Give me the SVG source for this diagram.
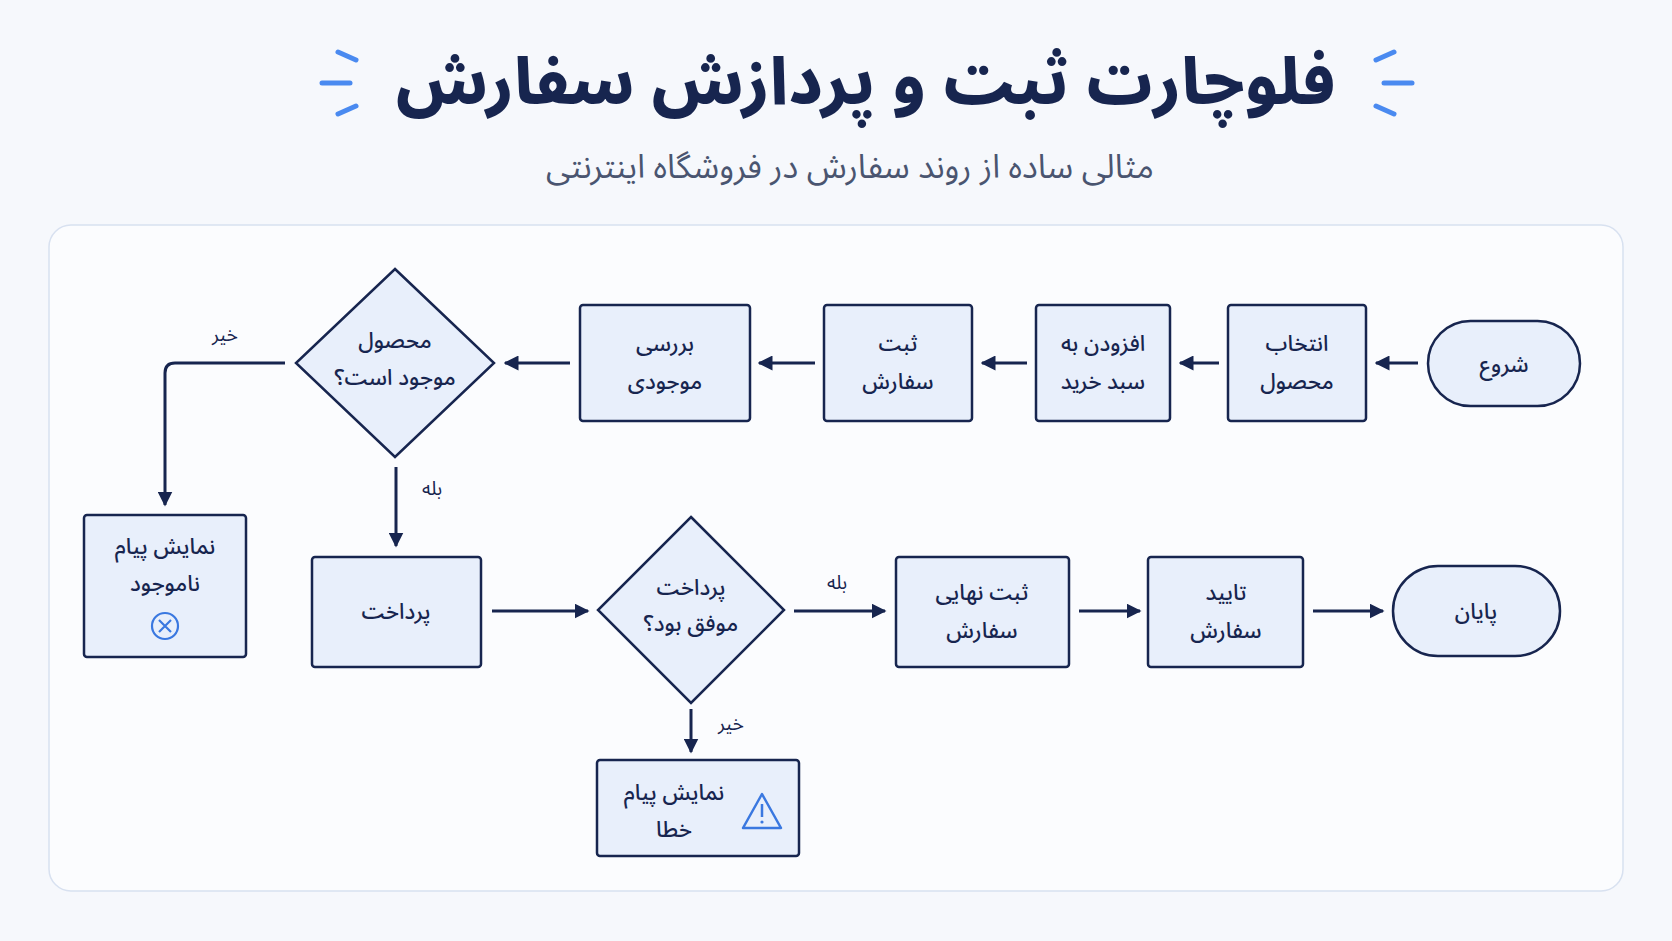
<svg xmlns="http://www.w3.org/2000/svg" width="1672" height="941" viewBox="0 0 1672 941">
<defs>
<marker id="ah" viewBox="0 0 10 10" refX="9" refY="5" markerWidth="5" markerHeight="5" orient="auto-start-reverse"><path d="M0,0 L10,5 L0,10 z" fill="#17254f"/></marker>
<style>
.n{fill:#e8effb;stroke:#17254f;stroke-width:2.5}
.t{font-family:"Noto Sans Arabic","DejaVu Sans",sans-serif;font-size:22px;font-weight:500;fill:#17254f;text-anchor:middle;direction:rtl}
.l{font-family:"Noto Sans Arabic","DejaVu Sans",sans-serif;font-size:19px;fill:#17254f;text-anchor:middle;direction:rtl}
.c{fill:none;stroke:#17254f;stroke-width:3;marker-end:url(#ah)}
.d{stroke:#4a8af0;stroke-width:5;stroke-linecap:round}
</style>
</defs>
<rect width="1672" height="941" fill="#f6f8fc"/>
<text x="866" y="104" style="font-family:'Noto Sans Arabic','DejaVu Sans',sans-serif;font-size:65px;font-weight:800;fill:#17254f;text-anchor:middle;direction:rtl">فلوچارت ثبت و پردازش سفارش</text>
<text x="850" y="178" style="font-family:'Noto Sans Arabic','DejaVu Sans',sans-serif;font-size:33px;fill:#4a5570;text-anchor:middle;direction:rtl">مثالی ساده از روند سفارش در فروشگاه اینترنتی</text>
<g>
<line class="d" x1="338" y1="52" x2="356" y2="60"/><line class="d" x1="322" y1="83" x2="350" y2="83"/><line class="d" x1="338" y1="114" x2="356" y2="106"/>
<line class="d" x1="1394" y1="52" x2="1376" y2="60"/><line class="d" x1="1384" y1="83" x2="1412" y2="83"/><line class="d" x1="1394" y1="114" x2="1376" y2="106"/>
</g>
<rect x="49" y="225" width="1574" height="666" rx="22" fill="#fbfcfe" stroke="#d8e1f0" stroke-width="1.5"/>
<g id="connectors">
<line class="c" x1="1418" y1="363" x2="1376" y2="363"/>
<line class="c" x1="1219" y1="363" x2="1180" y2="363"/>
<line class="c" x1="1027" y1="363" x2="982" y2="363"/>
<line class="c" x1="815" y1="363" x2="759" y2="363"/>
<line class="c" x1="570" y1="363" x2="505" y2="363"/>
<path class="c" d="M285,363 H175 Q165,363 165,373 V505"/>
<line class="c" x1="396" y1="467" x2="396" y2="546"/>
<line class="c" x1="492" y1="611" x2="588" y2="611"/>
<line class="c" x1="794" y1="611" x2="885" y2="611"/>
<line class="c" x1="1079" y1="611" x2="1140" y2="611"/>
<line class="c" x1="1313" y1="611" x2="1383" y2="611"/>
<line class="c" x1="691" y1="709" x2="691" y2="752"/>
<text class="l" x="225" y="341">خیر</text>
<text class="l" x="432" y="495">بله</text>
<text class="l" x="837" y="589">بله</text>
<text class="l" x="731" y="730">خیر</text>
</g>
<g id="start"><rect class="n" x="1428" y="321" width="152" height="85" rx="42.5"/><text class="t" x="1504" y="372">شروع</text></g>
<g id="select"><rect class="n" x="1228" y="305" width="138" height="116" rx="3"/><text class="t" x="1297" y="351">انتخاب</text><text class="t" x="1297" y="389">محصول</text></g>
<g id="cart"><rect class="n" x="1036" y="305" width="134" height="116" rx="3"/><text class="t" x="1103" y="351">افزودن به</text><text class="t" x="1103" y="389">سبد خرید</text></g>
<g id="order"><rect class="n" x="824" y="305" width="148" height="116" rx="3"/><text class="t" x="898" y="351">ثبت</text><text class="t" x="898" y="389">سفارش</text></g>
<g id="check"><rect class="n" x="580" y="305" width="170" height="116" rx="3"/><text class="t" x="665" y="351">بررسی</text><text class="t" x="665" y="389">موجودی</text></g>
<g id="instock"><polygon class="n" points="395,269 494,363 395,457 296,363"/><text class="t" x="395" y="348">محصول</text><text class="t" x="395" y="385">موجود است؟</text></g>
<g id="outofstock"><rect class="n" x="84" y="515" width="162" height="142" rx="3"/><text class="t" x="165" y="554">نمایش پیام</text><text class="t" x="165" y="591">ناموجود</text><circle cx="165" cy="626" r="13" fill="none" stroke="#3a78e0" stroke-width="2.2"/><path d="M159,620 L171,632 M171,620 L159,632" stroke="#3a78e0" stroke-width="2.2"/></g>
<g id="pay"><rect class="n" x="312" y="557" width="169" height="110" rx="3"/><text class="t" x="396" y="619">پرداخت</text></g>
<g id="paid"><polygon class="n" points="691,517 784,610 691,703 598,610"/><text class="t" x="691" y="595">پرداخت</text><text class="t" x="691" y="631">موفق بود؟</text></g>
<g id="final"><rect class="n" x="896" y="557" width="173" height="110" rx="3"/><text class="t" x="982" y="600">ثبت نهایی</text><text class="t" x="982" y="638">سفارش</text></g>
<g id="confirm"><rect class="n" x="1148" y="557" width="155" height="110" rx="3"/><text class="t" x="1226" y="600">تایید</text><text class="t" x="1226" y="638">سفارش</text></g>
<g id="end"><rect class="n" x="1393" y="566" width="167" height="90" rx="45"/><text class="t" x="1476" y="619">پایان</text></g>
<g id="error"><rect class="n" x="597" y="760" width="202" height="96" rx="3"/><text class="t" x="674" y="800">نمایش پیام</text><text class="t" x="674" y="837">خطا</text><path d="M762,794 L781,828 L743,828 Z" fill="none" stroke="#3a78e0" stroke-width="2.5" stroke-linejoin="round"/><line x1="762" y1="804" x2="762" y2="817" stroke="#3a78e0" stroke-width="2.5"/><circle cx="762" cy="822" r="1.6" fill="#3a78e0"/></g>
</svg>
